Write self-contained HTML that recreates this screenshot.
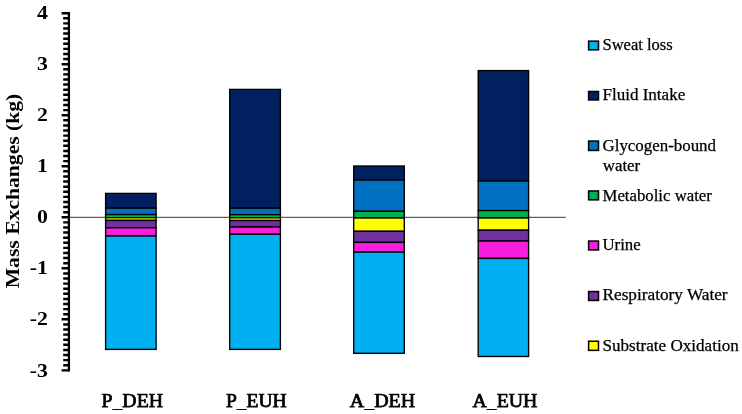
<!DOCTYPE html>
<html><head><meta charset="utf-8"><title>Mass Exchanges</title>
<style>
html,body{margin:0;padding:0;background:#fff;}
svg{display:block;}
text{font-family:"Liberation Serif",serif;fill:#000;}
.b{font-weight:bold;}
.xl{font-weight:normal;stroke:#000;stroke-width:0.75px;}
</style></head><body>
<svg width="742" height="414" viewBox="0 0 742 414">
<rect width="742" height="414" fill="#fff"/>
<line x1="69" y1="217.3" x2="565.7" y2="217.3" stroke="#222" stroke-width="0.9"/>
<rect x="105.6" y="193.4" width="50.5" height="14.8" fill="#002060" stroke="#000" stroke-width="1.35"/>
<rect x="105.6" y="208.2" width="50.5" height="6.4" fill="#0070C0" stroke="#000" stroke-width="1.35"/>
<rect x="105.6" y="214.6" width="50.5" height="3.1" fill="#00B050" stroke="#000" stroke-width="1.35"/>
<rect x="105.6" y="217.7" width="50.5" height="2.7" fill="#FFFF00" stroke="#000" stroke-width="1.35"/>
<rect x="105.6" y="220.4" width="50.5" height="7.4" fill="#7030A0" stroke="#000" stroke-width="1.35"/>
<rect x="105.6" y="227.8" width="50.5" height="8.2" fill="#F91EDC" stroke="#000" stroke-width="1.35"/>
<rect x="105.6" y="236.0" width="50.5" height="113.4" fill="#00B0F0" stroke="#000" stroke-width="1.35"/>
<rect x="229.7" y="89.4" width="50.7" height="118.8" fill="#002060" stroke="#000" stroke-width="1.35"/>
<rect x="229.7" y="208.2" width="50.7" height="6.5" fill="#0070C0" stroke="#000" stroke-width="1.35"/>
<rect x="229.7" y="214.7" width="50.7" height="3.1" fill="#00B050" stroke="#000" stroke-width="1.35"/>
<rect x="229.7" y="217.8" width="50.7" height="2.7" fill="#FFFF00" stroke="#000" stroke-width="1.35"/>
<rect x="229.7" y="220.5" width="50.7" height="6.5" fill="#7030A0" stroke="#000" stroke-width="1.35"/>
<rect x="229.7" y="227.0" width="50.7" height="7.3" fill="#F91EDC" stroke="#000" stroke-width="1.35"/>
<rect x="229.7" y="234.3" width="50.7" height="115.1" fill="#00B0F0" stroke="#000" stroke-width="1.35"/>
<rect x="353.7" y="166.0" width="50.6" height="14.1" fill="#002060" stroke="#000" stroke-width="1.35"/>
<rect x="353.7" y="180.1" width="50.6" height="31.2" fill="#0070C0" stroke="#000" stroke-width="1.35"/>
<rect x="353.7" y="211.3" width="50.6" height="6.7" fill="#00B050" stroke="#000" stroke-width="1.35"/>
<rect x="353.7" y="218.0" width="50.6" height="13.3" fill="#FFFF00" stroke="#000" stroke-width="1.35"/>
<rect x="353.7" y="231.3" width="50.6" height="11.1" fill="#7030A0" stroke="#000" stroke-width="1.35"/>
<rect x="353.7" y="242.4" width="50.6" height="9.7" fill="#F91EDC" stroke="#000" stroke-width="1.35"/>
<rect x="353.7" y="252.1" width="50.6" height="101.2" fill="#00B0F0" stroke="#000" stroke-width="1.35"/>
<rect x="478.2" y="70.6" width="50.4" height="110.4" fill="#002060" stroke="#000" stroke-width="1.35"/>
<rect x="478.2" y="181.0" width="50.4" height="29.6" fill="#0070C0" stroke="#000" stroke-width="1.35"/>
<rect x="478.2" y="210.6" width="50.4" height="7.4" fill="#00B050" stroke="#000" stroke-width="1.35"/>
<rect x="478.2" y="218.0" width="50.4" height="12.2" fill="#FFFF00" stroke="#000" stroke-width="1.35"/>
<rect x="478.2" y="230.2" width="50.4" height="10.8" fill="#7030A0" stroke="#000" stroke-width="1.35"/>
<rect x="478.2" y="241.0" width="50.4" height="17.4" fill="#F91EDC" stroke="#000" stroke-width="1.35"/>
<rect x="478.2" y="258.4" width="50.4" height="98.1" fill="#00B0F0" stroke="#000" stroke-width="1.35"/>
<line x1="68.9" y1="11.95" x2="68.9" y2="371.55" stroke="#000" stroke-width="2.3"/>
<path d="M61.6 13.15H69M63.2 18.25H69M63.2 23.36H69M63.2 28.46H69M63.2 33.56H69M63.2 38.66H69M63.2 43.77H69M63.2 48.87H69M63.2 53.97H69M63.2 59.08H69M61.6 64.18H69M63.2 69.28H69M63.2 74.38H69M63.2 79.49H69M63.2 84.59H69M63.2 89.69H69M63.2 94.80H69M63.2 99.90H69M63.2 105.00H69M63.2 110.10H69M61.6 115.21H69M63.2 120.31H69M63.2 125.41H69M63.2 130.52H69M63.2 135.62H69M63.2 140.72H69M63.2 145.82H69M63.2 150.93H69M63.2 156.03H69M63.2 161.13H69M61.6 166.24H69M63.2 171.34H69M63.2 176.44H69M63.2 181.54H69M63.2 186.65H69M63.2 191.75H69M63.2 196.85H69M63.2 201.96H69M63.2 207.06H69M63.2 212.16H69M61.6 217.26H69M63.2 222.37H69M63.2 227.47H69M63.2 232.57H69M63.2 237.68H69M63.2 242.78H69M63.2 247.88H69M63.2 252.98H69M63.2 258.09H69M63.2 263.19H69M61.6 268.29H69M63.2 273.40H69M63.2 278.50H69M63.2 283.60H69M63.2 288.70H69M63.2 293.81H69M63.2 298.91H69M63.2 304.01H69M63.2 309.12H69M63.2 314.22H69M61.6 319.32H69M63.2 324.42H69M63.2 329.53H69M63.2 334.63H69M63.2 339.73H69M63.2 344.84H69M63.2 349.94H69M63.2 355.04H69M63.2 360.14H69M63.2 365.25H69M61.6 370.35H69" stroke="#000" stroke-width="2.45" fill="none"/>
<text class="b" transform="translate(47.9 19.2) scale(1.13 1)" font-size="19.3" text-anchor="end">4</text>
<text class="b" transform="translate(47.9 70.3) scale(1.13 1)" font-size="19.3" text-anchor="end">3</text>
<text class="b" transform="translate(47.9 121.3) scale(1.13 1)" font-size="19.3" text-anchor="end">2</text>
<text class="b" transform="translate(47.9 172.3) scale(1.13 1)" font-size="19.3" text-anchor="end">1</text>
<text class="b" transform="translate(47.9 223.4) scale(1.13 1)" font-size="19.3" text-anchor="end">0</text>
<text class="b" transform="translate(47.9 274.4) scale(1.13 1)" font-size="19.3" text-anchor="end">-1</text>
<text class="b" transform="translate(47.9 325.4) scale(1.13 1)" font-size="19.3" text-anchor="end">-2</text>
<text class="b" transform="translate(47.9 376.5) scale(1.13 1)" font-size="19.3" text-anchor="end">-3</text>
<text class="b" transform="translate(18.8 288.3) rotate(-90)" font-size="19" textLength="194.6" lengthAdjust="spacingAndGlyphs">Mass Exchanges (kg)</text>
<text class="xl" x="101.4" y="406.8" font-size="19" textLength="61.7" lengthAdjust="spacingAndGlyphs">P<tspan dy="1.2" stroke-width="0.2">_</tspan><tspan dy="-1.2">DEH</tspan></text>
<text class="xl" x="226.0" y="406.8" font-size="19" textLength="60.7" lengthAdjust="spacingAndGlyphs">P<tspan dy="1.2" stroke-width="0.2">_</tspan><tspan dy="-1.2">EUH</tspan></text>
<text class="xl" x="349.7" y="406.8" font-size="19" textLength="65.6" lengthAdjust="spacingAndGlyphs">A<tspan dy="1.2" stroke-width="0.2">_</tspan><tspan dy="-1.2">DEH</tspan></text>
<text class="xl" x="472.4" y="406.8" font-size="19" textLength="65.0" lengthAdjust="spacingAndGlyphs">A<tspan dy="1.2" stroke-width="0.2">_</tspan><tspan dy="-1.2">EUH</tspan></text>
<rect x="588.6" y="41.15" width="9.9" height="8.70" fill="#00B0F0" stroke="#000" stroke-width="1.5"/>
<text x="602.5" y="49.9" font-size="16" stroke="#000" stroke-width="0.25" textLength="70.2" lengthAdjust="spacingAndGlyphs">Sweat loss</text>
<rect x="588.6" y="91.45" width="9.9" height="8.50" fill="#002060" stroke="#000" stroke-width="1.5"/>
<text x="602.5" y="100.0" font-size="16" stroke="#000" stroke-width="0.25" textLength="82.7" lengthAdjust="spacingAndGlyphs">Fluid Intake</text>
<rect x="588.6" y="141.05" width="9.9" height="9.40" fill="#0070C0" stroke="#000" stroke-width="1.5"/>
<text x="602.5" y="151.2" font-size="16" stroke="#000" stroke-width="0.25" textLength="113.5" lengthAdjust="spacingAndGlyphs">Glycogen-bound</text>
<rect x="588.6" y="190.95" width="9.9" height="8.90" fill="#00B050" stroke="#000" stroke-width="1.5"/>
<text x="602.5" y="200.7" font-size="16" stroke="#000" stroke-width="0.25" textLength="109.4" lengthAdjust="spacingAndGlyphs">Metabolic water</text>
<rect x="588.6" y="241.05" width="9.9" height="8.90" fill="#F91EDC" stroke="#000" stroke-width="1.5"/>
<text x="602.5" y="249.8" font-size="16" stroke="#000" stroke-width="0.25" textLength="38.2" lengthAdjust="spacingAndGlyphs">Urine</text>
<rect x="588.6" y="291.55" width="9.9" height="8.90" fill="#7030A0" stroke="#000" stroke-width="1.5"/>
<text x="602.5" y="300.3" font-size="16" stroke="#000" stroke-width="0.25" textLength="125.1" lengthAdjust="spacingAndGlyphs">Respiratory Water</text>
<rect x="588.6" y="341.25" width="9.9" height="9.10" fill="#FFFF00" stroke="#000" stroke-width="1.5"/>
<text x="602.5" y="351.0" font-size="16" stroke="#000" stroke-width="0.25" textLength="136.3" lengthAdjust="spacingAndGlyphs">Substrate Oxidation</text>
<text x="602.7" y="170.9" font-size="16" stroke="#000" stroke-width="0.25" textLength="37.5" lengthAdjust="spacingAndGlyphs">water</text>
</svg></body></html>
